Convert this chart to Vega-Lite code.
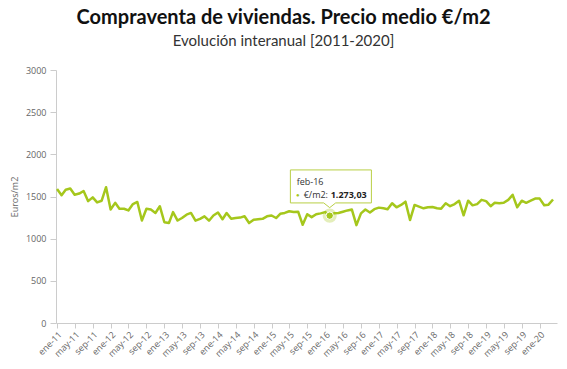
{
  "$schema": "https://vega.github.io/schema/vega-lite/v6.json",
  "width": 501,
  "height": 253,
  "autosize": "none",
  "padding": {"left": 56, "top": 70, "right": 10, "bottom": 46},
  "background": "white",
  "title": {
    "text": "Compraventa de viviendas. Precio medio €/m2",
    "subtitle": "Evolución interanual [2011-2020]",
    "anchor": "middle",
    "frame": "group",
    "dx": -23,
    "offset": 17,
    "font": "Lato",
    "fontSize": 20,
    "fontWeight": "bold",
    "color": "#111111",
    "subtitleFont": "Lato",
    "subtitleFontSize": 15,
    "subtitleColor": "#333333",
    "subtitlePadding": 6
  },
  "datasets": {
    "serie": [
      {"mes": "2011-01-01", "valor": 1590}, {"mes": "2011-02-01", "valor": 1515}, {"mes": "2011-03-01", "valor": 1580}, {"mes": "2011-04-01", "valor": 1595},
      {"mes": "2011-05-01", "valor": 1520}, {"mes": "2011-06-01", "valor": 1535}, {"mes": "2011-07-01", "valor": 1565}, {"mes": "2011-08-01", "valor": 1445},
      {"mes": "2011-09-01", "valor": 1490}, {"mes": "2011-10-01", "valor": 1430}, {"mes": "2011-11-01", "valor": 1450}, {"mes": "2011-12-01", "valor": 1610},
      {"mes": "2012-01-01", "valor": 1345}, {"mes": "2012-02-01", "valor": 1425}, {"mes": "2012-03-01", "valor": 1355}, {"mes": "2012-04-01", "valor": 1355},
      {"mes": "2012-05-01", "valor": 1335}, {"mes": "2012-06-01", "valor": 1410}, {"mes": "2012-07-01", "valor": 1435}, {"mes": "2012-08-01", "valor": 1215},
      {"mes": "2012-09-01", "valor": 1355}, {"mes": "2012-10-01", "valor": 1345}, {"mes": "2012-11-01", "valor": 1305}, {"mes": "2012-12-01", "valor": 1385},
      {"mes": "2013-01-01", "valor": 1195}, {"mes": "2013-02-01", "valor": 1185}, {"mes": "2013-03-01", "valor": 1315}, {"mes": "2013-04-01", "valor": 1215},
      {"mes": "2013-05-01", "valor": 1245}, {"mes": "2013-06-01", "valor": 1285}, {"mes": "2013-07-01", "valor": 1305}, {"mes": "2013-08-01", "valor": 1213},
      {"mes": "2013-09-01", "valor": 1235}, {"mes": "2013-10-01", "valor": 1265}, {"mes": "2013-11-01", "valor": 1213}, {"mes": "2013-12-01", "valor": 1275},
      {"mes": "2014-01-01", "valor": 1310}, {"mes": "2014-02-01", "valor": 1230}, {"mes": "2014-03-01", "valor": 1305}, {"mes": "2014-04-01", "valor": 1235},
      {"mes": "2014-05-01", "valor": 1245}, {"mes": "2014-06-01", "valor": 1250}, {"mes": "2014-07-01", "valor": 1265}, {"mes": "2014-08-01", "valor": 1185},
      {"mes": "2014-09-01", "valor": 1225}, {"mes": "2014-10-01", "valor": 1230}, {"mes": "2014-11-01", "valor": 1235}, {"mes": "2014-12-01", "valor": 1265},
      {"mes": "2015-01-01", "valor": 1275}, {"mes": "2015-02-01", "valor": 1245}, {"mes": "2015-03-01", "valor": 1295}, {"mes": "2015-04-01", "valor": 1305},
      {"mes": "2015-05-01", "valor": 1325}, {"mes": "2015-06-01", "valor": 1315}, {"mes": "2015-07-01", "valor": 1320}, {"mes": "2015-08-01", "valor": 1165},
      {"mes": "2015-09-01", "valor": 1290}, {"mes": "2015-10-01", "valor": 1255}, {"mes": "2015-11-01", "valor": 1290}, {"mes": "2015-12-01", "valor": 1300},
      {"mes": "2016-01-01", "valor": 1315}, {"mes": "2016-02-01", "valor": 1273.03}, {"mes": "2016-03-01", "valor": 1300}, {"mes": "2016-04-01", "valor": 1305},
      {"mes": "2016-05-01", "valor": 1320}, {"mes": "2016-06-01", "valor": 1335}, {"mes": "2016-07-01", "valor": 1345}, {"mes": "2016-08-01", "valor": 1160},
      {"mes": "2016-09-01", "valor": 1300}, {"mes": "2016-10-01", "valor": 1345}, {"mes": "2016-11-01", "valor": 1310}, {"mes": "2016-12-01", "valor": 1350},
      {"mes": "2017-01-01", "valor": 1368}, {"mes": "2017-02-01", "valor": 1360}, {"mes": "2017-03-01", "valor": 1348}, {"mes": "2017-04-01", "valor": 1420},
      {"mes": "2017-05-01", "valor": 1372}, {"mes": "2017-06-01", "valor": 1400}, {"mes": "2017-07-01", "valor": 1439}, {"mes": "2017-08-01", "valor": 1221},
      {"mes": "2017-09-01", "valor": 1400}, {"mes": "2017-10-01", "valor": 1380}, {"mes": "2017-11-01", "valor": 1360}, {"mes": "2017-12-01", "valor": 1372},
      {"mes": "2018-01-01", "valor": 1375}, {"mes": "2018-02-01", "valor": 1360}, {"mes": "2018-03-01", "valor": 1356}, {"mes": "2018-04-01", "valor": 1420},
      {"mes": "2018-05-01", "valor": 1385}, {"mes": "2018-06-01", "valor": 1410}, {"mes": "2018-07-01", "valor": 1450}, {"mes": "2018-08-01", "valor": 1277},
      {"mes": "2018-09-01", "valor": 1450}, {"mes": "2018-10-01", "valor": 1395}, {"mes": "2018-11-01", "valor": 1410}, {"mes": "2018-12-01", "valor": 1460},
      {"mes": "2019-01-01", "valor": 1445}, {"mes": "2019-02-01", "valor": 1385}, {"mes": "2019-03-01", "valor": 1425}, {"mes": "2019-04-01", "valor": 1420},
      {"mes": "2019-05-01", "valor": 1425}, {"mes": "2019-06-01", "valor": 1460}, {"mes": "2019-07-01", "valor": 1520}, {"mes": "2019-08-01", "valor": 1372},
      {"mes": "2019-09-01", "valor": 1450}, {"mes": "2019-10-01", "valor": 1425}, {"mes": "2019-11-01", "valor": 1450}, {"mes": "2019-12-01", "valor": 1475},
      {"mes": "2020-01-01", "valor": 1475}, {"mes": "2020-02-01", "valor": 1396}, {"mes": "2020-03-01", "valor": 1403}, {"mes": "2020-04-01", "valor": 1465}
    ],
    "tooltip": [
      {"mes": "2016-02-01", "valor": 1273.03, "fecha": "feb-16", "serie": "€/m2:", "texto": "1.273,03", "punto": "●"}
    ]
  },
  "encoding": {
    "x": {
      "field": "mes",
      "type": "temporal",
      "scale": {
        "type": "utc",
        "nice": false,
        "domain": [
          {"year": 2010, "month": 12, "date": 25, "utc": true},
          {"year": 2020, "month": 4, "date": 28, "utc": true}
        ]
      },
      "axis": {
        "title": null,
        "format": "%b-%y",
        "tickCount": {"interval": "month", "step": 4},
        "labelAngle": -45,
        "labelFontSize": 9,
        "labelFont": "Open Sans",
        "labelColor": "#666666",
        "labelPadding": 2,
        "tickSize": 5,
        "tickColor": "#cccccc",
        "domainColor": "#cccccc",
        "grid": false,
        "labelOverlap": false
      }
    },
    "y": {
      "field": "valor",
      "type": "quantitative",
      "scale": {"domain": [0, 3000], "nice": false},
      "axis": {
        "title": "Euros/m2",
        "titleFont": "Open Sans",
        "titleFontSize": 9,
        "titleFontWeight": "normal",
        "titleColor": "#666666",
        "titlePadding": 6,
        "values": [0, 500, 1000, 1500, 2000, 2500, 3000],
        "format": "d",
        "labelFont": "Open Sans",
        "labelFontSize": 9,
        "labelColor": "#666666",
        "labelPadding": 4,
        "tickSize": 6,
        "tickColor": "#cccccc",
        "domainColor": "#cccccc",
        "grid": false
      }
    }
  },
  "layer": [
    {
      "data": {"name": "serie"},
      "mark": {"type": "line", "color": "#a5c71c", "strokeWidth": 2.5, "strokeJoin": "round"}
    },
    {
      "data": {"name": "tooltip"},
      "mark": {
        "type": "point",
        "shape": "M -0.959 -1.115 L 1.017 -1.115 L 1.017 -0.310 L 0.146 -0.310 L 0 -0.195 L -0.146 -0.310 L -0.959 -0.310 Z",
        "size": 6724,
        "filled": true,
        "fill": "white",
        "stroke": "#b9cf45",
        "strokeWidth": 1,
        "opacity": 1
      }
    },
    {
      "data": {"name": "tooltip"},
      "mark": {"type": "point", "shape": "circle", "filled": true, "size": 200, "color": "#a5c71c", "opacity": 0.3}
    },
    {
      "data": {"name": "tooltip"},
      "mark": {"type": "point", "shape": "circle", "filled": true, "size": 55, "color": "#a5c71c", "opacity": 1, "stroke": "white", "strokeWidth": 1}
    },
    {
      "data": {"name": "tooltip"},
      "mark": {"type": "text", "align": "left", "baseline": "middle", "dx": -33, "dy": -34, "font": "Open Sans", "fontSize": 9, "color": "#333333"},
      "encoding": {"text": {"field": "fecha"}}
    },
    {
      "data": {"name": "tooltip"},
      "mark": {"type": "text", "align": "center", "baseline": "middle", "dx": -32, "dy": -21, "font": "Open Sans", "fontSize": 6, "color": "#a5c71c"},
      "encoding": {"text": {"field": "punto"}}
    },
    {
      "data": {"name": "tooltip"},
      "mark": {"type": "text", "align": "left", "baseline": "middle", "dx": -26, "dy": -21, "font": "Open Sans", "fontSize": 9, "color": "#333333"},
      "encoding": {"text": {"field": "serie"}}
    },
    {
      "data": {"name": "tooltip"},
      "mark": {"type": "text", "align": "left", "baseline": "middle", "dx": 1, "dy": -21, "font": "Open Sans", "fontSize": 9, "fontWeight": "bold", "color": "#222222"},
      "encoding": {"text": {"field": "texto"}}
    }
  ],
  "config": {
    "view": {"stroke": null},
    "locale": {
      "number": {"decimal": ",", "thousands": ".", "grouping": [3], "currency": ["", " €"]},
      "time": {
        "dateTime": "%A, %e de %B de %Y, %X",
        "date": "%d/%m/%Y",
        "time": "%H:%M:%S",
        "periods": ["AM", "PM"],
        "days": ["domingo", "lunes", "martes", "miércoles", "jueves", "viernes", "sábado"],
        "shortDays": ["dom", "lun", "mar", "mié", "jue", "vie", "sáb"],
        "months": ["enero", "febrero", "marzo", "abril", "mayo", "junio", "julio", "agosto", "septiembre", "octubre", "noviembre", "diciembre"],
        "shortMonths": ["ene", "feb", "mar", "abr", "may", "jun", "jul", "ago", "sep", "oct", "nov", "dic"]
      }
    }
  }
}
